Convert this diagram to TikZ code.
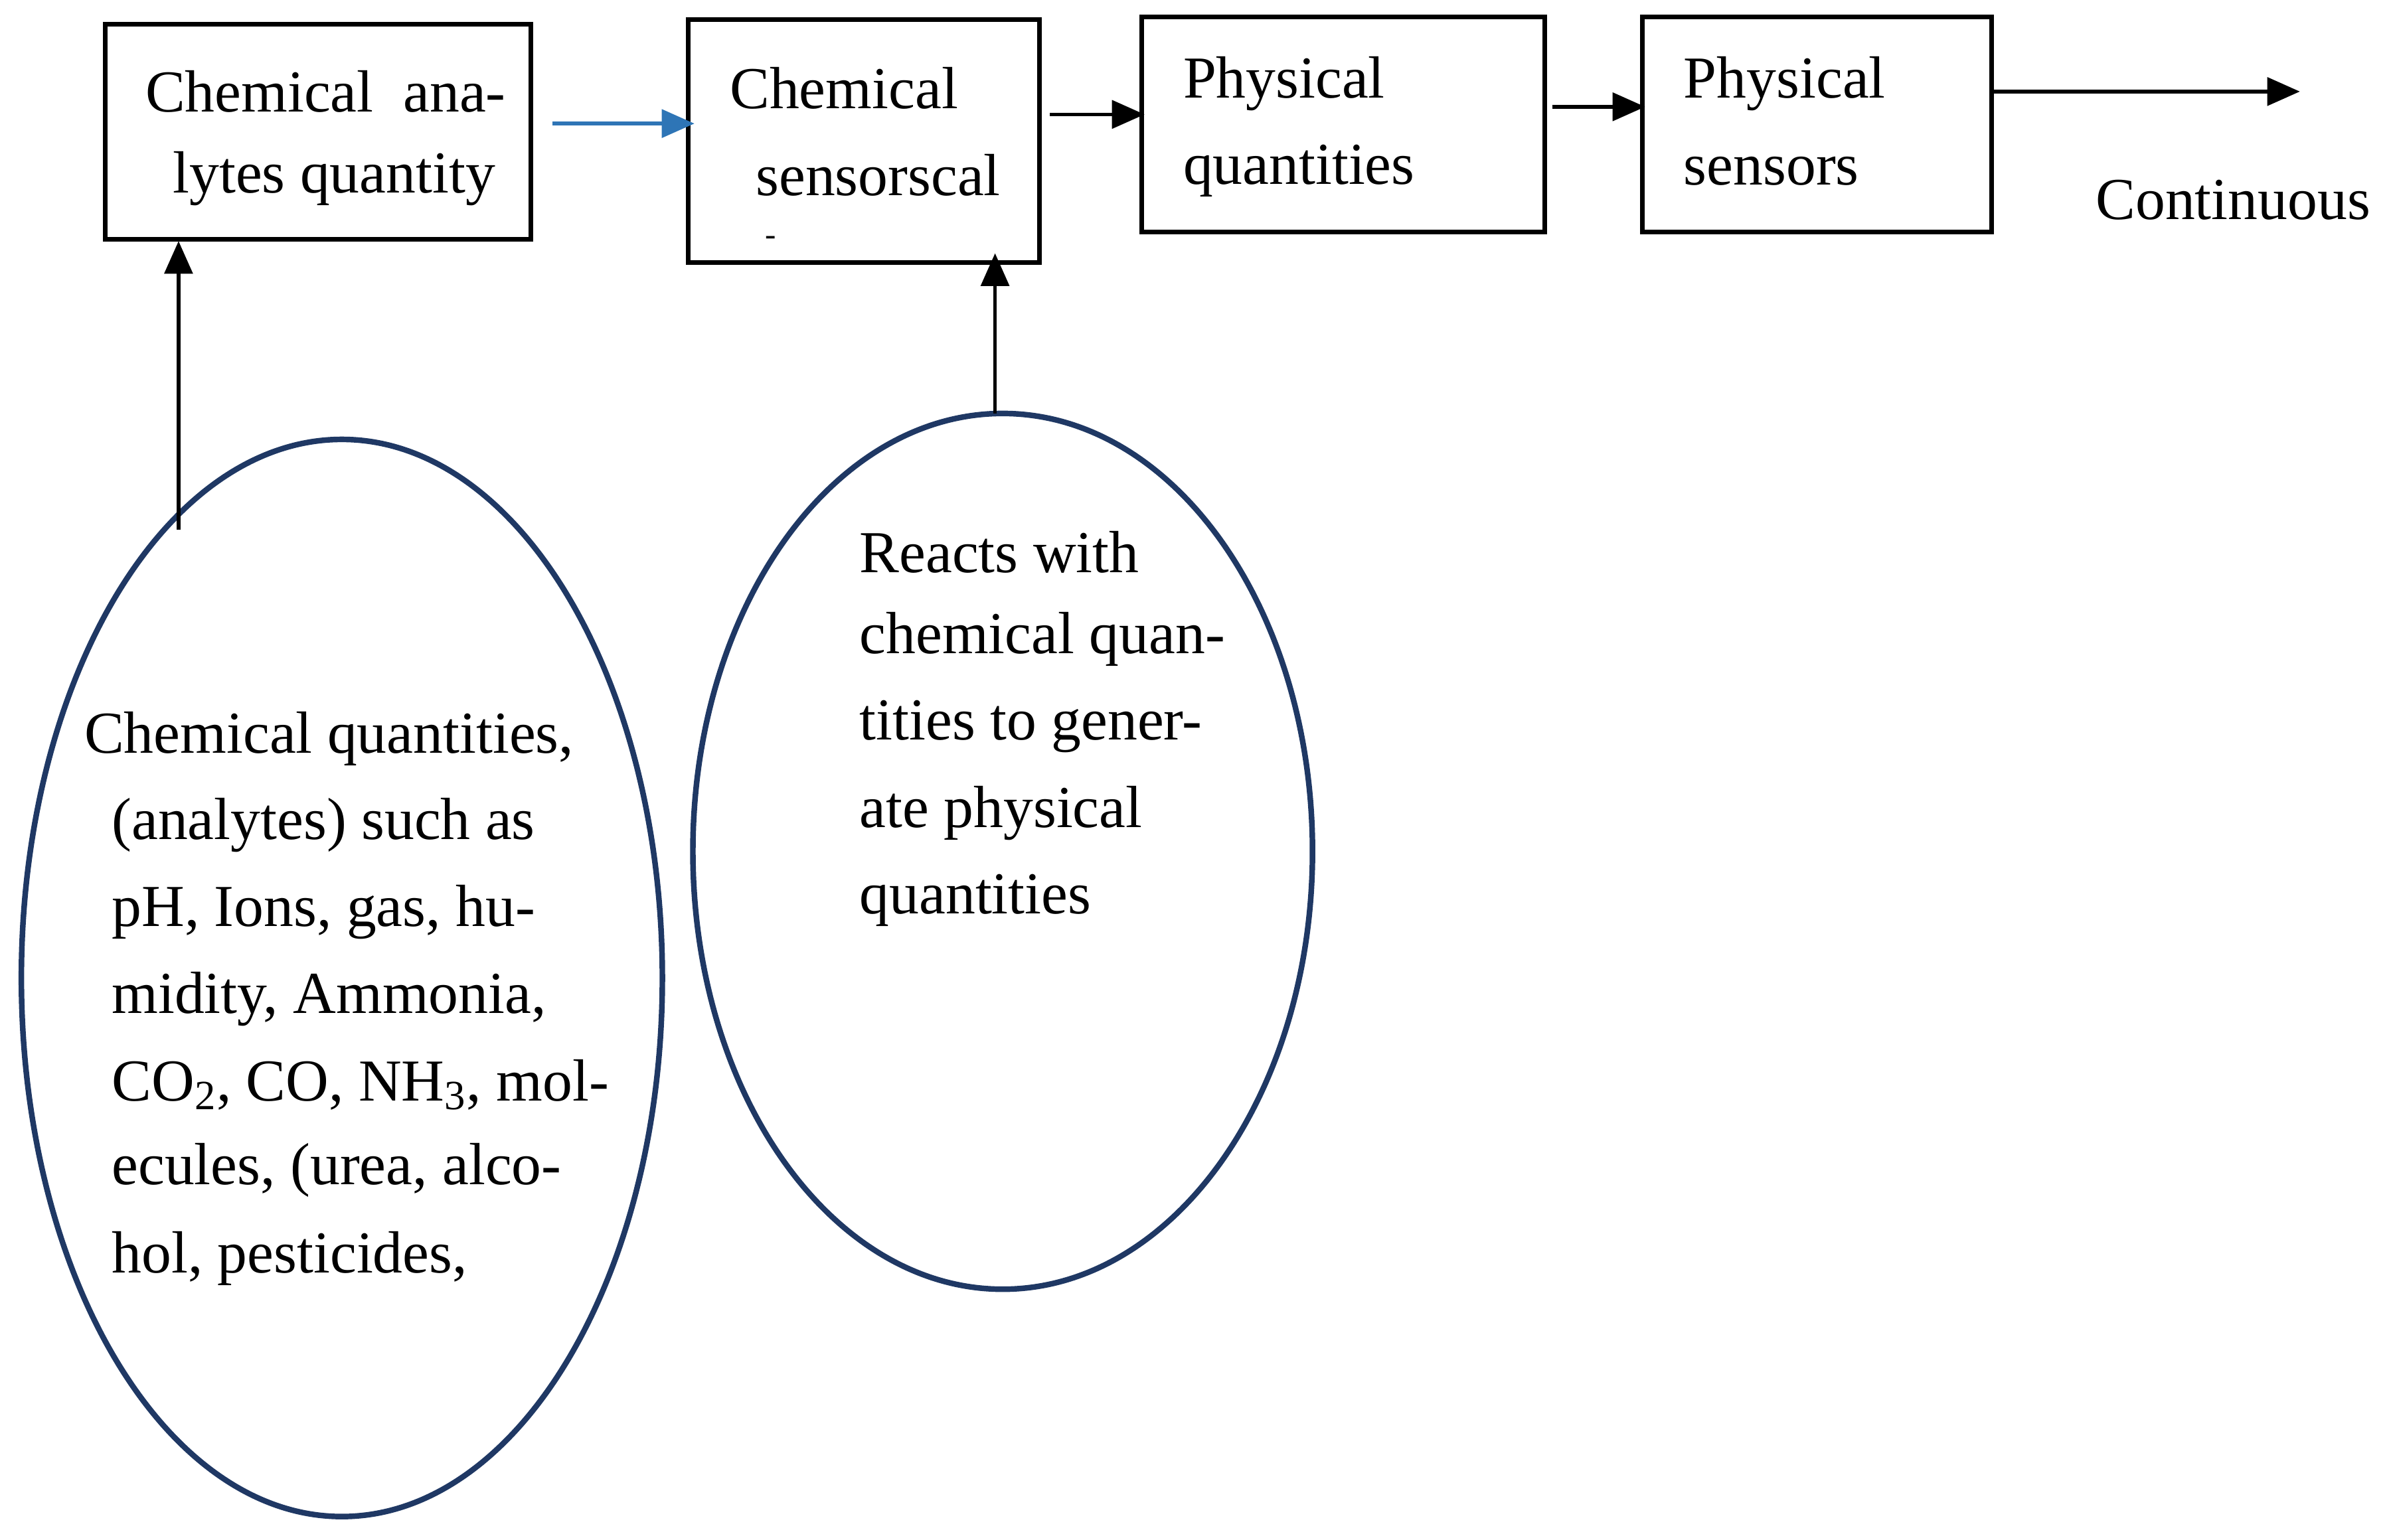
\documentclass[tikz,border=0pt]{standalone}
\usepackage{fontspec}
\setmainfont{Liberation Serif}
\usetikzlibrary{arrows.meta}
\definecolor{navy}{HTML}{1F3864}
\definecolor{flowblue}{HTML}{2E75B6}
\tikzset{
  box/.style={draw, line width=2pt},
  flow/.style={-{Triangle[length=14pt,width=12pt]}, line width=1.6pt},
  oval/.style={draw=navy, line width=2.4pt},
  txt/.style={anchor=west, inner sep=0pt, font=\fontsize{25.5}{31}\selectfont}
}
\begin{document}
\begin{tikzpicture}[x=0.02298cm, y=-0.02298cm]
        \useasboundingbox (0, 0) rectangle (1568, 1009);

        % blocks along the top
        \draw[box] (69, 16) rectangle (348, 157);
        \draw[box] (451, 13) rectangle (681, 172);
        \draw[box] (748, 11) rectangle (1012, 152);
        \draw[box] (1076, 11) rectangle (1305, 152);

        \node[txt] (b1a) at (95, 60) {Chemical\ \ ana-};
        \node[txt] (b1b) at (113, 117) {lytes quantity};
        \node[txt] (b2a) at (478, 58) {Chemical};
        \node[txt] (b2b) at (495, 115) {sensorscal};
        \node[txt] (b2c) at (501, 158) {\fontsize{14}{14}\selectfont -};
        \node[txt] (b3a) at (775, 55) {Physical};
        \node[txt] (b3b) at (775, 112) {quantities};
        \node[txt] (b4a) at (1103, 55) {Physical};
        \node[txt] (b4b) at (1103, 112) {sensors};
        \node[txt] (cont) at (1373, 131) {Continuous};

        \coordinate (A1s) at (362, 81);
        \coordinate (A1e) at (455, 81);
        \coordinate (A2s) at (688, 75);
        \coordinate (A2e) at (750, 75);
        \coordinate (A3s) at (1017, 70);
        \coordinate (A3e) at (1078, 70);
        \coordinate (A4s) at (1305, 60);
        \coordinate (A4e) at (1507, 60);

        \draw[flow, flowblue] (A1s) -- (A1e);
        \draw[flow] (A2s) -- (A2e);
        \draw[flow] (A3s) -- (A3e);
        \draw[flow] (A4s) -- (A4e);

        % ellipses underneath
        \draw[oval] (224, 641) ellipse [x radius=210, y radius=353];
        \draw[oval] (657, 558) ellipse [x radius=203, y radius=287];

        \coordinate (E1t) at (117, 347);
        \coordinate (B1b) at (117, 158);
        \coordinate (E2t) at (652, 271);
        \coordinate (B2b) at (652, 166);
        \draw[flow] (E1t) -- (B1b);
        \draw[flow] (E2t) -- (B2b);

        \node[txt] (e1l1) at (55, 484) {Chemical quantities,};
        \node[txt] (e1l2) at (73, 541) {(analytes) such as};
        \node[txt] (e1l3) at (73, 598) {pH, Ions, gas, hu-};
        \node[txt] (e1l4) at (73, 655) {midity, Ammonia,};
        \node[txt] (e1l5) at (73, 711) {CO\textsubscript{2}, CO, NH\textsubscript{3}, mol-};
        \node[txt] (e1l6) at (73, 767) {ecules, (urea, alco-};
        \node[txt] (e1l7) at (73, 825) {hol, pesticides,};

        \node[txt] (e2l1) at (563, 362) {Reacts with};
        \node[txt] (e2l2) at (563, 419) {chemical quan-};
        \node[txt] (e2l3) at (563, 476) {tities to gener-};
        \node[txt] (e2l4) at (563, 533) {ate physical};
        \node[txt] (e2l5) at (563, 590) {quantities};
\end{tikzpicture}
\end{document}
